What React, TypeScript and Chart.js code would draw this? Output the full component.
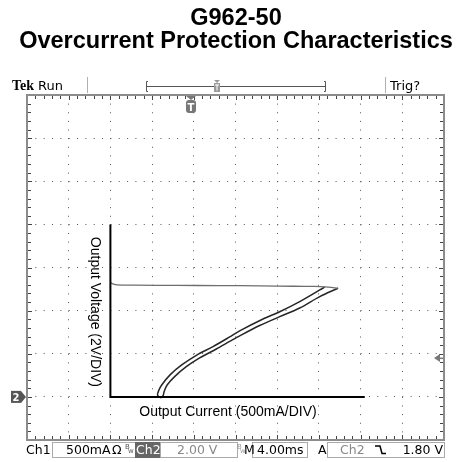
import React, { useEffect, useRef } from 'react';
import { Chart, registerables } from 'chart.js';

Chart.register(...registerables);

// ---- Data (Output Current in A, Output Voltage in V) ----
const flatCurrent = [0.0, 0.03, 0.08, 0.3, 0.8, 1.3, 1.8, 2.2, 2.45, 2.57, 2.73];
const flatVoltage = [5.3, 5.24, 5.19, 5.18, 5.17, 5.16, 5.15, 5.13, 5.12, 5.1, 5.04];

const lowerCurrent = [2.73, 2.51, 2.27, 2.03, 1.79, 1.55, 1.43, 1.27, 1.07, 0.91, 0.77, 0.68, 0.645, 0.63];
const lowerVoltage = [5.04, 4.65, 4.12, 3.72, 3.31, 2.83, 2.57, 2.22, 1.81, 1.4, 0.94, 0.55, 0.25, 0.04];

const bottomCurrent = [0.6];
const bottomVoltage = [-0.03];

const upperCurrent = [0.565, 0.58, 0.615, 0.715, 0.855, 1.035, 1.23, 1.43, 1.55, 1.83, 2.03, 2.27, 2.51, 2.57];
const upperVoltage = [0.09, 0.3, 0.55, 1.02, 1.48, 1.94, 2.33, 2.78, 3.06, 3.61, 3.95, 4.42, 4.96, 5.09];

const axisCurrent = [0, 0, 3.05];
const axisVoltage = [8, 0, 0];

// scope screen: 10 x 8 divisions
const xMin = -1;
const xMax = 4;
const xStep = 0.5;
const yMin = -2;
const yMax = 14;
const yStep = 2;

const titleLines = ['G962-50', 'Overcurrent Protection Characteristics'];
const xAxisLabel = 'Output Current (500mA/DIV)';
const yAxisLabel = 'Output Voltage (2V/DIV)';
const headerLeft = ['Tek', 'Run'];
const headerRight = 'Trig?';
const ch1Label = 'Ch1';
const ch1Scale = '500mA';
const ch2Label = 'Ch2';
const ch2Scale = '2.00 V';
const timeBase = '4.00ms';
const trigLevel = '1.80 V';

const toPoints = (xs: number[], ys: number[]) => xs.map((v, i) => ({ x: v, y: ys[i] }));

const scopePlugin = {
  id: 'scopeDecor',
  beforeDraw(chart: any) {
    const { ctx, width, height } = chart;
    ctx.save();
    ctx.fillStyle = '#ffffff';
    ctx.fillRect(0, 0, width, height);
    ctx.restore();
  },
  afterDraw(chart: any) {
    const { ctx, chartArea: a, scales } = chart;
    const xs = scales.x;
    const ys = scales.y;
    const L = a.left, R = a.right, T = a.top, B = a.bottom;
    const divW = (R - L) / 10;
    const divH = (B - T) / 8;
    ctx.save();

    // frame
    ctx.strokeStyle = '#8c8c8c';
    ctx.lineWidth = 2;
    ctx.strokeRect(L, T, R - L, B - T);

    // border tick marks every 1/5 division
    ctx.strokeStyle = '#444';
    ctx.lineWidth = 1;
    ctx.beginPath();
    for (let i = 1; i < 50; i++) {
      const px = Math.round(L + (i * divW) / 5) + 0.5;
      const len = i % 5 === 0 ? 4 : 3;
      ctx.moveTo(px, T + 1);
      ctx.lineTo(px, T + 1 + len);
      ctx.moveTo(px, B - 1);
      ctx.lineTo(px, B - 1 - len);
    }
    for (let i = 1; i < 40; i++) {
      const py = Math.round(T + (i * divH) / 5) + 0.5;
      const len = i % 5 === 0 ? 4 : 3;
      ctx.moveTo(L + 1, py);
      ctx.lineTo(L + 1 + len, py);
      ctx.moveTo(R - 1, py);
      ctx.lineTo(R - 1 - len, py);
    }
    ctx.stroke();

    // title
    ctx.fillStyle = '#000';
    ctx.textAlign = 'center';
    ctx.textBaseline = 'alphabetic';
    ctx.font = 'bold 23.5px "Liberation Sans", Arial, sans-serif';
    ctx.fillText(titleLines[0], 236, 25);
    ctx.fillText(titleLines[1], 236, 48);

    // header
    ctx.textAlign = 'left';
    ctx.font = 'bold 14px "Liberation Serif", serif';
    ctx.fillText(headerLeft[0], 12, 90);
    ctx.font = '13px "DejaVu Sans", sans-serif';
    ctx.fillText(headerLeft[1], 38, 90);
    ctx.fillText(headerRight, 390, 90);
    ctx.strokeStyle = '#b0b0b0';
    ctx.lineWidth = 1;
    ctx.beginPath();
    ctx.moveTo(87.5, 77);
    ctx.lineTo(87.5, 93);
    ctx.moveTo(385.5, 77);
    ctx.lineTo(385.5, 93);
    ctx.stroke();
    // record bar
    ctx.strokeStyle = '#555';
    ctx.beginPath();
    ctx.moveTo(148, 81.5);
    ctx.lineTo(146.5, 81.5);
    ctx.lineTo(146.5, 91.5);
    ctx.lineTo(148, 91.5);
    ctx.moveTo(146.5, 86.5);
    ctx.lineTo(325.5, 86.5);
    ctx.moveTo(324, 81.5);
    ctx.lineTo(325.5, 81.5);
    ctx.lineTo(325.5, 91.5);
    ctx.lineTo(324, 91.5);
    ctx.stroke();
    ctx.fillStyle = '#999';
    ctx.beginPath();
    ctx.moveTo(214, 80);
    ctx.lineTo(220, 80);
    ctx.lineTo(217, 83);
    ctx.closePath();
    ctx.fill();
    ctx.fillRect(214, 83, 6, 9);
    ctx.fillStyle = '#fff';
    ctx.fillRect(216.5, 84.5, 1, 6);
    ctx.fillRect(215, 84.5, 4, 1);

    // trigger position marker (T)
    const tx = 191;
    ctx.fillStyle = '#777';
    ctx.beginPath();
    ctx.moveTo(tx - 5, T + 1);
    ctx.lineTo(tx + 5, T + 1);
    ctx.lineTo(tx, T + 5);
    ctx.closePath();
    ctx.fill();
    ctx.beginPath();
    ctx.roundRect(tx - 5, T + 5, 10, 13, 3);
    ctx.fill();
    ctx.fillStyle = '#fff';
    ctx.font = 'bold 10px "DejaVu Sans", sans-serif';
    ctx.textAlign = 'center';
    ctx.fillText('T', tx, T + 16);

    // ground marker "2"
    const gy = ys.getPixelForValue(0);
    ctx.fillStyle = '#555';
    ctx.fillRect(11, gy - 6, 10, 12);
    ctx.beginPath();
    ctx.moveTo(21, gy - 6);
    ctx.lineTo(26, gy);
    ctx.lineTo(21, gy + 6);
    ctx.closePath();
    ctx.fill();
    ctx.fillStyle = '#fff';
    ctx.font = 'bold 10px "DejaVu Sans", sans-serif';
    ctx.fillText('2', 16, gy + 4);

    // trigger level marker
    const ty = ys.getPixelForValue(1.8);
    ctx.fillStyle = '#777';
    ctx.beginPath();
    ctx.moveTo(434, ty);
    ctx.lineTo(440, ty - 4);
    ctx.lineTo(440, ty + 4);
    ctx.closePath();
    ctx.fill();
    ctx.fillRect(440, ty - 0.5, 3, 1.5);

    // inner axis labels
    ctx.fillStyle = '#000';
    ctx.font = '14px "Liberation Sans", Arial, sans-serif';
    ctx.textAlign = 'center';
    ctx.textBaseline = 'middle';
    ctx.fillText(xAxisLabel, xs.getPixelForValue(1.41), ys.getPixelForValue(-0.7));
    ctx.save();
    ctx.translate(xs.getPixelForValue(-0.185), ys.getPixelForValue(3.94));
    ctx.rotate(Math.PI / 2);
    ctx.fillText(yAxisLabel, 0, 0);
    ctx.restore();

    // status bar
    const sb = 454;
    ctx.textBaseline = 'alphabetic';
    ctx.textAlign = 'left';
    ctx.strokeStyle = '#aaa';
    ctx.lineWidth = 1;
    ctx.strokeRect(52.5, 442.5, 83, 15);
    ctx.strokeRect(160.5, 442.5, 77, 15);
    ctx.strokeRect(252.5, 442.5, 55, 15);
    ctx.strokeRect(327.5, 442.5, 117, 15);
    ctx.fillStyle = '#666';
    ctx.fillRect(135, 442, 25, 16);

    ctx.font = '12.5px "DejaVu Sans", sans-serif';
    ctx.fillStyle = '#000';
    ctx.fillText(ch1Label, 26, sb);
    ctx.fillText(ch1Scale, 66, sb);
    ctx.fillText('\u03A9', 112, sb);
    ctx.fillText('M', 244, sb);
    ctx.fillText(timeBase, 257, sb);
    ctx.fillText('A', 318, sb);
    ctx.textAlign = 'right';
    ctx.fillText(trigLevel, 443, sb);
    ctx.textAlign = 'left';
    ctx.fillStyle = '#fff';
    ctx.fillText(ch2Label, 136, sb);
    ctx.fillStyle = '#888';
    ctx.fillText(ch2Scale, 177, sb);
    ctx.fillText(ch2Label, 340, sb);
    ctx.font = '7px "DejaVu Sans", sans-serif';
    ctx.fillStyle = '#555';
    ctx.fillText('B', 125, 449);
    ctx.fillText('w', 128, 453);
    ctx.fillStyle = '#999';
    ctx.fillText('B', 237, 449);
    ctx.fillText('w', 240, 453);
    // falling-edge symbol
    ctx.strokeStyle = '#000';
    ctx.lineWidth = 1.5;
    ctx.beginPath();
    ctx.moveTo(375, 446);
    ctx.lineTo(380, 446);
    ctx.lineTo(382, 453.5);
    ctx.lineTo(386, 453.5);
    ctx.stroke();

    ctx.restore();
  },
};

export default function App() {
  const canvasRef = useRef<HTMLCanvasElement | null>(null);

  useEffect(() => {
    const canvas = canvasRef.current;
    if (!canvas) return;
    const loopPoints = [
      ...toPoints(lowerCurrent, lowerVoltage),
      ...toPoints(bottomCurrent, bottomVoltage),
      ...toPoints(upperCurrent, upperVoltage),
    ];
    const chart = new Chart(canvas, {
      type: 'scatter',
      data: {
        datasets: [
          {
            label: 'axes',
            data: toPoints(axisCurrent, axisVoltage),
            showLine: true,
            borderColor: '#000',
            borderWidth: 2,
            pointRadius: 0,
            tension: 0,
          },
          {
            label: 'limit',
            data: toPoints(flatCurrent, flatVoltage),
            showLine: true,
            borderColor: '#6e6e6e',
            borderWidth: 1.3,
            pointRadius: 0,
            tension: 0.2,
          },
          {
            label: 'foldback',
            data: loopPoints,
            showLine: true,
            borderColor: '#262626',
            borderWidth: 1.5,
            pointRadius: 0,
            tension: 0.3,
          },
        ],
      },
      options: {
        responsive: false,
        animation: false,
        layout: { padding: { left: 27, right: 26, top: 95, bottom: 22 } },
        plugins: {
          legend: { display: false },
          title: { display: false },
          tooltip: { enabled: false },
        },
        scales: {
          x: {
            type: 'linear',
            min: xMin,
            max: xMax,
            ticks: { display: false, stepSize: xStep },
            grid: { color: '#555', lineWidth: 1, drawTicks: false },
            border: { display: false, dash: [1, 7.625] },
          },
          y: {
            type: 'linear',
            min: yMin,
            max: yMax,
            ticks: { display: false, stepSize: yStep },
            grid: { color: '#555', lineWidth: 1, drawTicks: false },
            border: { display: false, dash: [1, 7.34] },
          },
        },
      },
      plugins: [scopePlugin],
    });
    return () => chart.destroy();
  }, []);

  return (
    <div style={{ position: 'absolute', left: 0, top: 0, width: 470, height: 462 }}>
      <canvas ref={canvasRef} width={470} height={462} />
    </div>
  );
}
